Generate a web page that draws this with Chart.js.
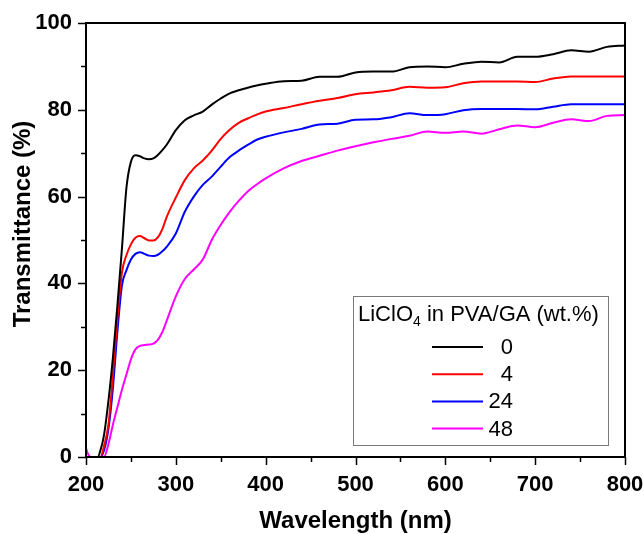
<!DOCTYPE html>
<html>
<head>
<meta charset="utf-8">
<script src="https://cdn.jsdelivr.net/npm/chart.js@4"></script>
<style>
    html, body { margin: 0; padding: 0; background: #ffffff; }
    #wrap { width: 644px; height: 534px; position: relative; }
</style>
</head>
<body>
<div id="wrap"><canvas id="uvChart"></canvas></div>
<script>
// UV-Vis transmittance of LiClO4 doped PVA/GA films
const FONT = '"Liberation Sans", Arial, sans-serif';

// wavelength grid (nm), shared by all series
const wavelengths = [200, 202, 205, 210, 213, 216, 220, 225, 230, 235, 240, 245, 250, 255, 260, 265, 270, 275, 280, 285, 290,
    300, 310, 320, 330, 340, 350, 360, 370, 380, 390, 400,
    420, 440, 460, 480, 500, 520, 540, 560, 580, 600, 620, 640, 660, 680, 700, 720, 740, 760, 780, 800];

// transmittance (%) per LiClO4 content
const t0 = [0, 0, 0, 0, 0, 1.5, 5, 13, 23, 35, 48, 62, 68, 69.5, 69.3, 68.8, 68.6, 68.8, 69.6, 70.7, 72,
    75.3, 77.6, 78.7, 79.6, 81.2, 82.6, 83.8, 84.5, 85.1, 85.6, 86,
    86.6, 86.7, 87.6, 87.6, 88.6, 88.8, 88.8, 89.8, 90, 89.8, 90.6, 91.1, 90.9, 92.2, 92.2, 92.8, 93.7, 93.4, 94.5, 94.8];
const t4 = [0, 0, 0, 0, 0, 0, 2.5, 7.5, 19, 32, 42.5, 46.5, 49, 50.5, 50.9, 50.4, 49.9, 49.9, 50.6, 52.5, 55.4,
    59.8, 63.8, 66.5, 68.3, 70.6, 73.3, 75.4, 77, 78, 78.9, 79.6,
    80.4, 81.3, 82.1, 82.7, 83.6, 84, 84.5, 85.3, 85.1, 85.2, 86.1, 86.5, 86.5, 86.5, 86.4, 87.2, 87.7, 87.7, 87.7, 87.7];
const t24 = [0, 0, 0, 0, 0, 0, 1.5, 6.5, 16, 29, 39.5, 43, 45.5, 46.8, 47.2, 46.8, 46.4, 46.3, 46.6, 47.4, 48.5,
    51.5, 56.5, 60, 62.7, 64.6, 66.9, 69.1, 70.6, 71.9, 73.1, 73.8,
    74.8, 75.6, 76.6, 76.8, 77.7, 77.8, 78.3, 79.2, 78.8, 79, 79.9, 80.2, 80.2, 80.2, 80.1, 80.7, 81.3, 81.3, 81.3, 81.3];
const t48 = [2, 0.8, 0, 0, 0, 0, 0, 3, 7.5, 11.5, 15.5, 19, 22.5, 24.8, 25.6, 25.8, 25.9, 26.1, 27, 28.8, 31.5,
    37, 41, 43.2, 45.5, 50, 53.5, 56.5, 59, 61.2, 62.8, 64.2,
    66.5, 68.2, 69.4, 70.6, 71.6, 72.5, 73.3, 74, 75, 74.7, 75, 74.5, 75.5, 76.4, 76, 77, 77.8, 77.4, 78.6, 78.8];

const seriesLabels = ['0', '4', '24', '48'];
const seriesColors = ['#000000', '#ff0000', '#0000ff', '#ff00ff'];
const seriesValues = [t0, t4, t24, t48];

const xTickValues = [200, 300, 400, 500, 600, 700, 800];
const yTickValues = [0, 20, 40, 60, 80, 100];

function toPoints(values) {
    return wavelengths.map((w, i) => ({ x: w, y: values[i] }));
}

// box around the plot + outward major/minor ticks + y axis title
const framePlugin = {
    id: 'frame',
    afterDraw(chart) {
        const { ctx, chartArea: a, scales } = chart;
        ctx.save();
        ctx.strokeStyle = '#000';
        ctx.lineWidth = 2;
        ctx.strokeRect(a.left, a.top, a.right - a.left, a.bottom - a.top);

        ctx.lineWidth = 1.5;
        ctx.beginPath();
        for (let v = 200; v <= 800; v += 50) {
            const px = Math.round(scales.x.getPixelForValue(v)) + 0.5;
            const len = v % 100 === 0 ? 8 : 5;
            ctx.moveTo(px, a.bottom);
            ctx.lineTo(px, a.bottom + len);
        }
        for (let v = 0; v <= 100; v += 10) {
            const py = Math.round(scales.y.getPixelForValue(v)) + 0.5;
            const len = v % 20 === 0 ? 8 : 5;
            ctx.moveTo(a.left, py);
            ctx.lineTo(a.left - len, py);
        }
        ctx.stroke();

        // y title sits a bit above the plot's middle in the original
        ctx.translate(23, 224);
        ctx.rotate(-Math.PI / 2);
        ctx.fillStyle = '#000';
        ctx.font = 'bold 24px ' + FONT;
        ctx.textAlign = 'center';
        ctx.textBaseline = 'middle';
        ctx.fillText('Transmittance (%)', 0, 0);
        ctx.restore();
    }
};

// framed legend with a subscript in its title
const legendPlugin = {
    id: 'boxLegend',
    afterDraw(chart) {
        const ctx = chart.ctx;
        const box = { x: 353.5, y: 296.5, w: 255, h: 149 };
        ctx.save();
        ctx.strokeStyle = '#7a7a7a';
        ctx.lineWidth = 1;
        ctx.strokeRect(box.x, box.y, box.w, box.h);

        ctx.fillStyle = '#000';
        ctx.textBaseline = 'alphabetic';
        ctx.textAlign = 'left';
        let tx = 358;
        const ty = 321;
        ctx.font = '22px ' + FONT;
        ctx.fillText('LiClO', tx, ty);
        tx += ctx.measureText('LiClO').width;
        ctx.font = '14px ' + FONT;
        ctx.fillText('4', tx, ty + 5);
        tx += ctx.measureText('4').width;
        ctx.font = '22px ' + FONT;
        ctx.fillText(' in PVA/GA (wt.%)', tx, ty);

        chart.data.datasets.forEach((ds, i) => {
            const rowY = 347 + i * 27.2;
            ctx.strokeStyle = ds.borderColor;
            ctx.lineWidth = 2;
            ctx.beginPath();
            ctx.moveTo(432, rowY);
            ctx.lineTo(483, rowY);
            ctx.stroke();
            ctx.textAlign = 'right';
            ctx.textBaseline = 'middle';
            ctx.font = '22px ' + FONT;
            ctx.fillText(ds.label, 513, rowY + 1);
        });
        ctx.restore();
    }
};

new Chart(document.getElementById('uvChart'), {
    type: 'line',
    data: {
        datasets: seriesValues.map((vals, i) => ({
            label: seriesLabels[i],
            data: toPoints(vals),
            borderColor: seriesColors[i],
            backgroundColor: seriesColors[i],
            borderWidth: 2,
            pointRadius: 0,
            cubicInterpolationMode: 'monotone',
            fill: false
        }))
    },
    options: {
        responsive: true,
        maintainAspectRatio: false,
        animation: false,
        devicePixelRatio: 1,
        layout: { padding: { top: 23, right: 19, left: 0, bottom: 0 } },
        plugins: {
            legend: { display: false },
            tooltip: { enabled: false }
        },
        scales: {
            x: {
                type: 'linear',
                min: 200,
                max: 800,
                afterBuildTicks: scale => { scale.ticks = xTickValues.map(v => ({ value: v })); },
                afterFit: scale => {
                    scale.height = 77;
                    scale.paddingLeft = 0;
                    scale.paddingRight = 0;
                },
                grid: { display: false },
                border: { display: false },
                ticks: {
                    color: '#000',
                    padding: 7,
                    maxRotation: 0,
                    font: { family: FONT, size: 22, weight: 'bold' }
                },
                title: {
                    display: true,
                    text: 'Wavelength (nm)',
                    color: '#000',
                    padding: { top: 4, bottom: -2 },
                    font: { family: FONT, size: 24, weight: 'bold' }
                }
            },
            y: {
                min: 0,
                max: 100,
                afterBuildTicks: scale => { scale.ticks = yTickValues.map(v => ({ value: v })); },
                afterFit: scale => {
                    scale.width = 86;
                    scale.paddingTop = 0;
                    scale.paddingBottom = 0;
                },
                grid: { display: false },
                border: { display: false },
                ticks: {
                    color: '#000',
                    padding: 6,
                    font: { family: FONT, size: 22, weight: 'bold' }
                }
            }
        }
    },
    plugins: [framePlugin, legendPlugin]
});
</script>
</body>
</html>
